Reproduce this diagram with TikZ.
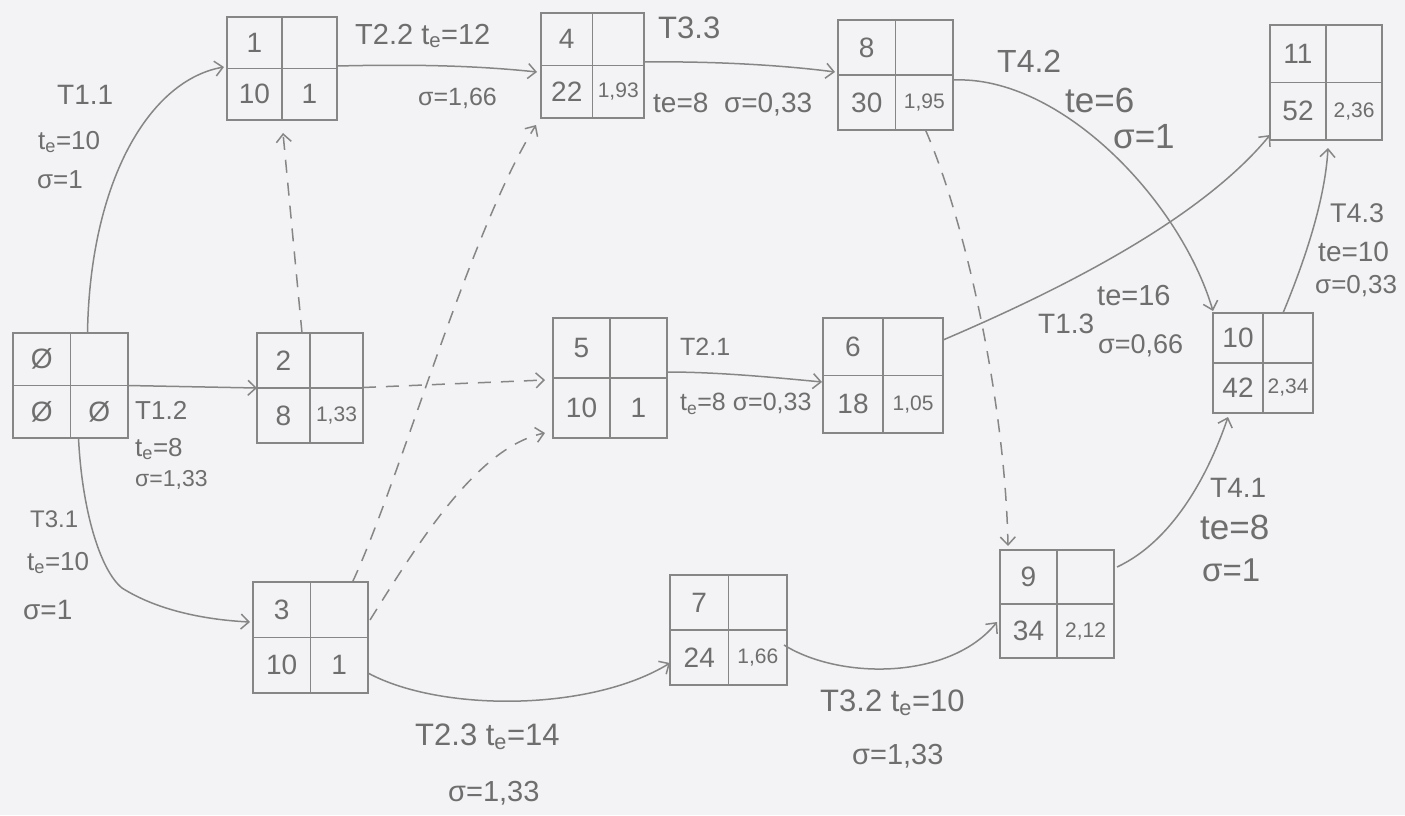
\documentclass[tikz,border=0pt]{standalone}
\usepackage{fontspec}
\setmainfont{Liberation Sans}
\usetikzlibrary{arrows.meta,calc}
\definecolor{paper}{HTML}{F3F3F5}
\definecolor{pencil}{HTML}{868686}
\definecolor{ink}{HTML}{6E6E6E}
\newcommand\cn[1]{{\fontsize{21}{23}\selectfont #1}}
\newcommand\te{t\textsubscript{e}}
\newcommand\evbox[8]{%
  \node[evb, minimum width={(#4)-(#2)}, minimum height={(#5)-(#3)}] (#1) at ({((#2)+(#4))/2},{((#3)+(#5))/2}) {};
  \draw[pen] (#1.north) -- (#1.south) (#1.west) -- (#1.east);
  \node[cell] (#1tl) at ($(#1.center)!0.5!(#1.north west)$) {#6};
  \node[cell] (#1bl) at ($(#1.center)!0.5!(#1.south west)$) {#7};
  \node[cell] (#1br) at ($(#1.center)!0.5!(#1.south east)$) {#8};
}
\newcommand\lbl[5]{\node[lab, font=\fontsize{#4}{#4}\selectfont] (#1) at (#2,#3) {#5};}
\begin{document}
\begin{tikzpicture}[x=1pt, y=-1pt,
  pen/.style={draw=pencil, line width=1.5pt},
  evb/.style={pen, rectangle, inner sep=0pt, outer sep=0pt},
  cell/.style={text=ink, inner sep=0pt, font=\fontsize{28}{30}\selectfont},
  lab/.style={text=ink, anchor=west, inner sep=0pt},
  arr/.style={pen, -{Straight Barb[length=8pt,width=15pt]}},
  dsh/.style={arr, dash pattern=on 13pt off 10pt}]
\fill[paper] (0,0) rectangle (1405,815);
\useasboundingbox (0,0) rectangle (1405,815);

% event boxes
\evbox{n0}{13}{333}{128}{438}{Ø}{Ø}{Ø}
\evbox{n1}{227}{17}{337}{120}{1}{10}{1}
\evbox{n2}{257}{333}{363}{443}{2}{8}{\cn{1,33}}
\evbox{n3}{253}{582}{368}{693}{3}{10}{1}
\evbox{n4}{541}{13}{644}{118}{4}{22}{\cn{1,93}}
\evbox{n5}{553}{318}{667}{438}{5}{10}{1}
\evbox{n6}{823}{318}{943}{433}{6}{18}{\cn{1,05}}
\evbox{n7}{670}{575}{787}{685}{7}{24}{\cn{1,66}}
\evbox{n8}{838}{20}{953}{130}{8}{30}{\cn{1,95}}
\evbox{n9}{1000}{550}{1114}{658}{9}{34}{\cn{2,12}}
\evbox{n10}{1213}{313}{1313}{413}{10}{42}{\cn{2,34}}
\evbox{n11}{1270}{25}{1382}{140}{11}{52}{\cn{2,36}}

% activities
\draw[arr] ($(n0.north)+(17,0)$) .. controls (90,180) and (150,80) .. ($(n1.west)+(-3,-1.5)$);
\draw[arr] (n0.east) -- (n2.west);
\draw[arr] ($(n0.south)+(8,0)$) .. controls (82,510) and (100,570) .. (122,588)
  .. controls (160,612) and (210,620) .. ($(n3.west)+(-3,-15.5)$);
\draw[arr] ($(n1.east)+(0,-2.5)$) .. controls (420,64) and (480,66) .. ($(n4.west)+(-4,6.5)$);
\draw[arr] ($(n4.east)+(0,-3.5)$) .. controls (720,61) and (790,66) .. ($(n8.west)+(-3,-3)$);
\draw[arr] ($(n5.east)+(0,-6)$) .. controls (720,372) and (780,378) .. ($(n6.west)+(-1,6.5)$);
\draw[arr] ($(n6.east)+(0,-35.5)$) .. controls (1060,290) and (1200,220) .. ($(n11.south west)+(0,-5)$);
\draw[arr] ($(n8.east)+(0,5)$) .. controls (1060,75) and (1180,200) .. ($(n10.north west)+(0,-2)$);
\draw[arr] ($(n7.east)+(-3,15)$) .. controls (840,680) and (950,680) .. ($(n9.west)+(-3,18)$);
\draw[arr] ($(n3.east)+(0,35.5)$) .. controls (440,712) and (590,712) .. ($(n7.west)+(0,33)$);
\draw[arr] ($(n9.east)+(3,-37)$) .. controls (1175,540) and (1210,470) .. ($(n10.south)+(-35,4)$);
\draw[arr] ($(n10.north)+(20,0)$) .. controls (1305,260) and (1325,200) .. ($(n11.south)+(2,8)$);

% dummy activities
\draw[dsh] ($(n2.north)+(-8,0)$) -- ($(n1.south)+(1,13)$);
\draw[dsh] ($(n2.east)+(0,-0.5)$) -- ($(n5.west)+(-8,2)$);
\draw[dsh] ($(n3.north)+(42,0)$) .. controls (400,480) and (470,230) .. ($(n4.south west)+(-5,7)$);
\draw[dsh] ($(n3.east)+(2,-17.5)$) .. controls (420,540) and (478,447) .. ($(n5.south west)+(-8,-5)$);
\draw[dsh] ($(n8.south)+(30,0)$) .. controls (965,220) and (1005,400) .. ($(n9.north west)+(8,-4)$);

% labels
\lbl{a11}{57}{95}{28}{T1.1}
\lbl{b11}{38}{142}{26}{\te=10}
\lbl{c11}{37}{180}{26}{σ=1}
\lbl{a22}{355}{36}{29}{T2.2 \te=12}
\lbl{c22}{418}{98}{25}{σ=1,66}
\lbl{a12}{135}{410}{26}{T1.2}
\lbl{b12}{135}{449}{26}{\te=8}
\lbl{c12}{135}{480}{23}{σ=1,33}
\lbl{a31}{30}{519}{24}{T3.1}
\lbl{b31}{27}{563}{26}{\te=10}
\lbl{c31}{23}{610}{28}{σ=1}
\lbl{a33}{658}{28}{31}{T3.3}
\lbl{b33}{653}{105}{28}{te=8 \ σ=0,33}
\lbl{a21}{680}{347}{25}{T2.1}
\lbl{b21}{680}{404}{25}{\te=8 σ=0,33}
\lbl{a23}{415}{737}{31}{T2.3 \te=14}
\lbl{c23}{448}{793}{29}{σ=1,33}
\lbl{a32}{820}{703}{31}{T3.2 \te=10}
\lbl{c32}{852}{756}{29}{σ=1,33}
\lbl{a42}{997}{61}{32}{T4.2}
\lbl{b42}{1065}{100}{35}{te=6}
\lbl{c42}{1113}{137}{35}{σ=1}
\lbl{a13}{1038}{324}{28}{T1.3}
\lbl{b13}{1097}{296}{29}{te=16}
\lbl{c13}{1098}{346}{27}{σ=0,66}
\lbl{a43}{1330}{213}{27}{T4.3}
\lbl{b43}{1318}{252}{28}{te=10}
\lbl{c43}{1315}{286}{26}{σ=0,33}
\lbl{a41}{1210}{488}{28}{T4.1}
\lbl{b41}{1200}{527}{35}{te=8}
\lbl{c41}{1202}{570}{33}{σ=1}
\end{tikzpicture}
\end{document}
